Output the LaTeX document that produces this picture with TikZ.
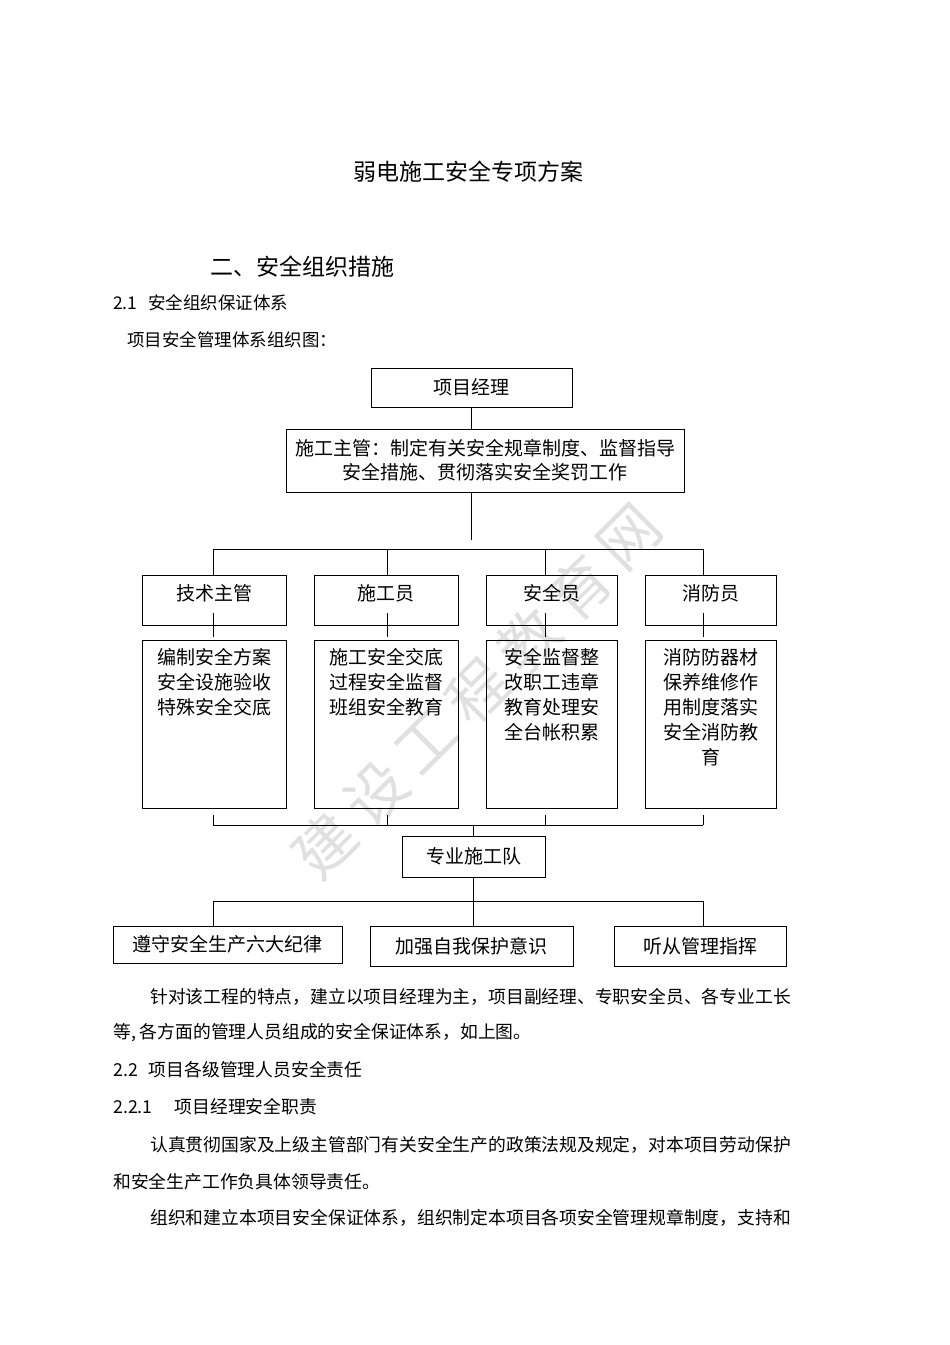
\documentclass[tikz,border=0pt]{standalone}
\usepackage{fontspec}
\setmainfont{Noto Sans CJK SC}
\usetikzlibrary{positioning}
\newcommand{\boxfont}{\fontsize{19}{24}\selectfont}
\newcommand{\bodyfont}{\fontsize{17.8}{22}\selectfont}
\newcommand{\headfont}{\fontsize{23}{28}\selectfont}

\begin{document}
\begin{tikzpicture}[
  x=1pt, y=-1pt,
  box/.style={rectangle, draw, line width=1pt, inner sep=0pt, outer sep=0pt,
              align=center, font=\boxfont},
  rolebox/.style={box, minimum height=50pt, text depth=16pt},
  dutybox/.style={box, minimum height=168pt},
  dutytext/.style={inner sep=0pt, align=center, font=\fontsize{19}{25}\selectfont},
  conn/.style={line width=1pt},
  para/.style={anchor=west, inner sep=0pt, font=\bodyfont},
  wmark/.style={text=black!12, font=\fontsize{60}{60}\selectfont, rotate=45}
]
  \useasboundingbox (0,0) rectangle (950,1345);
  \fill[white] (0,0) rectangle (950,1345);

  % watermark
  \foreach \ch [count=\i from 0] in {建,设,工,程,教,育,网}
    \node[wmark] (wm\i) at (325+50.8*\i, 845-51.3*\i) {\ch};

  % headings
  \node[font=\headfont, inner sep=0pt] (title) at (468.5,172) {弱电施工安全专项方案};
  \node[font=\headfont, inner sep=0pt, anchor=west] (sec2) at (210,267) {二、安全组织措施};
  \node[para, font=\fontsize{17.5}{21}\selectfont] (s21) at (113,303) {2.1\hspace{11pt}安全组织保证体系};
  \node[para, font=\fontsize{17.5}{21}\selectfont] (cap) at (127,340) {项目安全管理体系组织图：};

  % chart
  \node[box, minimum width=201pt, minimum height=39pt] (pm) at (471.5,387.5) {项目经理};
  \node[box, minimum width=398pt, minimum height=63pt, below=22pt of pm, xshift=13.5pt] (sup)
    {施工主管：制定有关安全规章制度、监督指导\\安全措施、贯彻落实安全奖罚工作};

  \node[rolebox, minimum width=144pt] (r1) at (214,600) {技术主管};
  \node[rolebox, minimum width=144pt, right=28pt of r1] (r2) {施工员};
  \node[rolebox, minimum width=131pt, right=28pt of r2] (r3) {安全员};
  \node[rolebox, minimum width=131pt, right=28pt of r3] (r4) {消防员};

  \node[dutybox, minimum width=144pt, below=15pt of r1] (d1) {};
  \node[dutybox, minimum width=144pt, below=15pt of r2] (d2) {};
  \node[dutybox, minimum width=131pt, below=15pt of r3] (d3) {};
  \node[dutybox, minimum width=131pt, below=15pt of r4] (d4) {};

  \node[dutytext, below=8.5pt of d1.north] (dt1) {编制安全方案\\安全设施验收\\特殊安全交底};
  \node[dutytext, below=8.5pt of d2.north] (dt2) {施工安全交底\\过程安全监督\\班组安全教育};
  \node[dutytext, below=8.5pt of d3.north] (dt3) {安全监督整\\改职工违章\\教育处理安\\全台帐积累};
  \node[dutytext, below=8.5pt of d4.north] (dt4) {消防防器材\\保养维修作\\用制度落实\\安全消防教\\育};

  \node[box, minimum width=143pt, minimum height=41pt] (team) at (473.5,856.5) {专业施工队};

  \node[box, minimum width=229pt, minimum height=37pt] (b1) at (227.5,944.5) {遵守安全生产六大纪律};
  \node[box, minimum width=203pt, minimum height=40pt] (b2) at (471.5,946) {加强自我保护意识};
  \node[box, minimum width=172pt, minimum height=40pt] (b3) at (700,946) {听从管理指挥};

  % connectors
  \foreach \n/\x in {1/213, 2/387, 3/545, 4/703} {
    \coordinate (t\n) at (\x,549);
    \coordinate (u\n) at (\x,825);
  }
  \coordinate (v1) at (213,901);
  \coordinate (v4) at (703,901);

  \draw[conn] (pm) -- (pm |- sup.north);
  \draw[conn] (sup.south -| pm) -- ++(0,48);
  \draw[conn] (t1) -- (t4);
  \foreach \n in {1,...,4} {
    \draw[conn] (t\n) -- (t\n |- r\n.north);
    \draw[conn] (t\n |- d\n.north) ++(0,-3) -- ++(0,-24);
    \draw[conn] (t\n |- d\n.south) ++(0,7) -- (u\n);
  }
  \draw[conn] (u1) -- (u4);
  \draw[conn] (team.north) -- (team.north |- u1);
  \draw[conn] (v1) -- (v4);
  \draw[conn] (team.south) -- (team.south |- b2.north);
  \draw[conn] (v1) -- (v1 |- b1.north);
  \draw[conn] (v4) -- (v4 |- b3.north);

  % text below the chart
  \node[para] (p1) at (150,997) {针对该工程的特点，建立以项目经理为主，项目副经理、专职安全员、各专业工长};
  \node[para] (p2) at (113,1033) {等, 各方面的管理人员组成的安全保证体系，如上图。};
  \node[para] (s22) at (113,1070) {2.2\hspace{11pt}项目各级管理人员安全责任};
  \node[para] (s221) at (113,1107) {2.2.1\hspace{22pt}项目经理安全职责};
  \node[para] (p3) at (150,1145) {认真贯彻国家及上级主管部门有关安全生产的政策法规及规定，对本项目劳动保护};
  \node[para] (p4) at (113,1182) {和安全生产工作负具体领导责任。};
  \node[para] (p5) at (150,1218) {组织和建立本项目安全保证体系，组织制定本项目各项安全管理规章制度，支持和};
\end{tikzpicture}
\end{document}
